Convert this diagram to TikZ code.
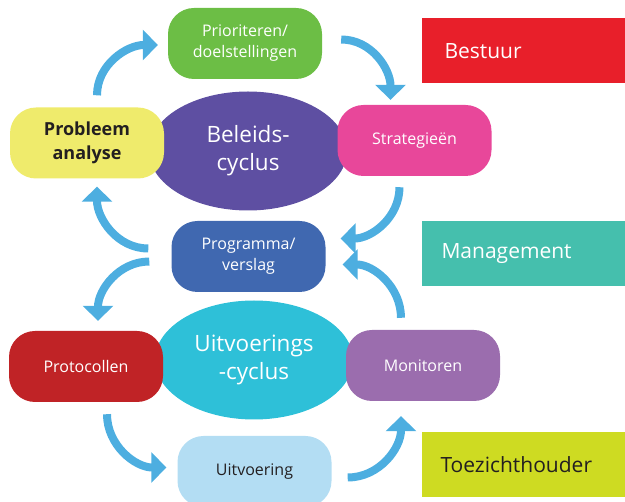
\documentclass[tikz,border=0pt]{standalone}
\usepackage{fontspec}
\setmainfont{Open Sans}
\usetikzlibrary{shapes.geometric,arrows.meta}
\definecolor{cgreen}{HTML}{6CBE45}
\definecolor{cpurple}{HTML}{5E4FA2}
\definecolor{cyellow}{HTML}{EFEB6C}
\definecolor{cpink}{HTML}{E8479A}
\definecolor{cblue}{HTML}{4068B0}
\definecolor{cred}{HTML}{C02326}
\definecolor{ccyan}{HTML}{2EC0D8}
\definecolor{cmauve}{HTML}{9B6DAE}
\definecolor{clight}{HTML}{B3DDF3}
\definecolor{carrow}{HTML}{4DAEE0}
\definecolor{bred}{HTML}{E81F2A}
\definecolor{bteal}{HTML}{45BFAD}
\definecolor{blime}{HTML}{CEDB22}
\definecolor{dark}{HTML}{231F20}
\tikzset{
  box/.style={rectangle, rounded corners=26pt, minimum width=154pt, minimum height=71pt,
    inner sep=0pt, align=center, text=white, font=\fontsize{16}{21}\selectfont},
  cyc/.style={ellipse, minimum width=198pt, minimum height=119pt, inner sep=0pt,
    align=center, text=white, font=\fontsize{22.5}{28}\selectfont},
  band/.style={rectangle, minimum width=203pt, minimum height=65pt, inner sep=0pt,
    anchor=north west},
  bandtext/.style={anchor=west, font=\fontsize{21}{25}\selectfont},
  arr/.style={draw=carrow, line width=8pt, -{Triangle[width=30pt,length=15pt]}, fill=none},
}
\begin{document}
\begin{tikzpicture}[x=1pt,y=-1pt]
\useasboundingbox (0,0) rectangle (625,502);
\clip (0,0) rectangle (625,502);
% ellipses
\node[cyc, fill=cpurple] (bel) at (248,151) {Beleids-\\cyclus};
\node[cyc, fill=ccyan] (uit) at (254,360) {Uitvoerings\\-cyclus};
% boxes
\node[box, fill=cgreen] (prior) at (245,43.5) {Prioriteren/\\doelstellingen};
\node[box, fill=cyellow, text=dark, font=\fontsize{18}{24}\selectfont\bfseries] (prob) at (87,143) {Probleem\\analyse};
\node[box, fill=cpink] (strat) at (414.5,140.5) {Strategieën};
\node[box, fill=cblue] (prog) at (248.5,256.5) {Programma/\\verslag};
\node[box, fill=cred] (proto) at (86,366.5) {Protocollen};
\node[box, fill=cmauve] (mon) at (423,365.5) {Monitoren};
\node[box, fill=clight, text=dark] (uitv) at (254.5,471.5) {Uitvoering};
% right bands
\node[band, fill=bred] (bestuur) at (422,18) {};
\node[bandtext, text=white] (bestuurt) at ([xshift=19pt]bestuur.west) {Bestuur};
\node[band, fill=bteal] (man) at (422,221) {};
\node[bandtext, text=white] (mant) at ([xshift=16pt]man.west) {Management};
\node[band, fill=blime] (toe) at (422,431.5) {};
\node[bandtext, text=dark] (toet) at ([xshift=15pt]toe.west) {Toezichthouder};
% arrows
\draw[arr] ([xshift=10pt,yshift=12pt]prob.north) to[out=90,in=180] ([xshift=-10pt,yshift=-1.5pt]prior.west);
\draw[arr] ([xshift=19pt,yshift=4pt]prior.east) to[out=0,in=90] ([xshift=-24pt,yshift=5pt]strat.north);
\draw[arr] ([xshift=-15pt,yshift=-11pt]strat.south) to[out=-90,in=0] ([xshift=15pt,yshift=18pt]prog.east);
\draw[arr] ([xshift=-23pt,yshift=8pt]prog.west) to[out=180,in=-90] ([xshift=10pt,yshift=-8pt]prob.south);
\draw[arr] ([xshift=-22pt,yshift=-5pt]prog.west) to[out=180,in=90] ([xshift=12pt,yshift=10pt]proto.north);
\draw[arr] ([xshift=-22pt,yshift=12pt]mon.north) to[out=90,in=0] ([xshift=17pt,yshift=-8pt]prog.east);
\draw[arr] ([xshift=21pt,yshift=-12pt]proto.south) to[out=-90,in=180] ([xshift=-11pt,yshift=4pt]uitv.west);
\draw[arr] ([xshift=16pt,yshift=-6pt]uitv.east) to[out=0,in=-90] ([xshift=-22pt,yshift=-15pt]mon.south);
\end{tikzpicture}
\end{document}
